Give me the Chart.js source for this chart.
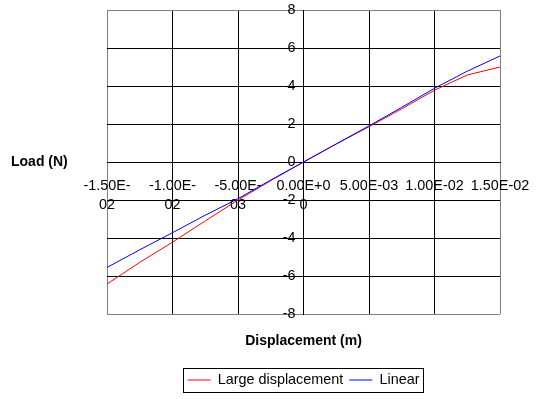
<html lang="en">
<head>
    <meta charset="UTF-8">
    <title>Load vs displacement</title>
    <script src="https://cdn.jsdelivr.net/npm/chart.js"></script>
    <style>
        body { margin: 0; background: #fff; }
    </style>
</head>
<body>
    <canvas id="grafico" width="536" height="399"></canvas>

    <script>
        // data
        var desplazamientos = [-0.015, -0.0125, -0.01, -0.0075, -0.005, -0.0025, 0, 0.0025, 0.005, 0.0075, 0.01, 0.0125, 0.015];
        var cargaGrande = [-6.42, -5.28, -4.22, -3.1, -2.0, -0.98, 0, 0.95, 1.86, 2.8, 3.78, 4.58, 5.0];
        var cargaLineal = [-5.55, -4.62, -3.72, -2.8, -1.93, -0.95, 0, 0.95, 1.9, 2.88, 3.88, 4.78, 5.58];
        var etiquetasX = [["-1.50E-", "02"], ["-1.00E-", "02"], ["-5.00E-", "03"], ["0.00E+0", "0"], "5.00E-03", "1.00E-02", "1.50E-02"];
        var etiquetasY = ["-8", "-6", "-4", "-2", "0", "2", "4", "6", "8"];

        var fuente = '"Liberation Sans", Arial, sans-serif';
        Chart.defaults.color = '#000';
        Chart.defaults.font.family = fuente;

        function puntos(valores) {
            return desplazamientos.map((x, i) => ({ x: x, y: valores[i] }));
        }

        function colorBorde(ctx, limite) {
            var v = ctx.tick ? ctx.tick.value : 0;
            return Math.abs(Math.abs(v) - limite) < limite * 1e-6 ? '#808080' : '#000';
        }

        // axis title on the left and frame round the legend
        var extras = {
            id: 'extras',
            afterDraw(chart) {
                var ctx = chart.ctx;
                ctx.save();
                ctx.fillStyle = '#000';
                ctx.font = 'bold 14px ' + fuente;
                ctx.textBaseline = 'middle';
                ctx.textAlign = 'left';
                ctx.fillText('Load (N)', 11, 162);

                var cajas = chart.legend.legendHitBoxes;
                if (cajas && cajas.length) {
                    var a = cajas[0], b = cajas[cajas.length - 1];
                    var mid = a.top + a.height / 2;
                    var x1 = Math.round(a.left - 5) + 0.5;
                    var x2 = Math.round(b.left + b.width + 4) + 0.5;
                    ctx.strokeStyle = '#000';
                    ctx.lineWidth = 1;
                    ctx.strokeRect(x1, Math.round(mid - 12) + 0.5, x2 - x1, 24);
                }
                ctx.restore();
            }
        };

        var ctx = document.getElementById("grafico").getContext("2d");
        var grafico = new Chart(ctx, {
            type: 'line',
            data: {
                datasets: [
                    {
                        label: 'Large displacement',
                        data: puntos(cargaGrande),
                        borderColor: '#ff0000',
                        backgroundColor: '#ff0000',
                        borderWidth: 1,
                        pointRadius: 0,
                        order: 1
                    },
                    {
                        label: 'Linear',
                        data: puntos(cargaLineal),
                        borderColor: '#0000ff',
                        backgroundColor: '#0000ff',
                        borderWidth: 1,
                        pointRadius: 0,
                        order: 0
                    }
                ]
            },
            options: {
                responsive: false,
                animation: false,
                layout: {
                    padding: { top: 10, left: 107, right: 36, bottom: 1.8 }
                },
                scales: {
                    x: {
                        type: 'linear',
                        min: -0.015,
                        max: 0.015,
                        position: { y: 0 },
                        ticks: {
                            stepSize: 0.005,
                            maxRotation: 0,
                            autoSkip: false,
                            padding: 4,
                            font: { size: 14.4, lineHeight: 1.3 },
                            callback: (v, i) => etiquetasX[i]
                        },
                        grid: {
                            color: c => colorBorde(c, 0.015),
                            tickLength: 11
                        },
                        border: { color: '#000' }
                    },
                    y: {
                        min: -8,
                        max: 8,
                        position: { x: 0 },
                        ticks: {
                            stepSize: 2,
                            padding: 0,
                            font: { size: 14.4 },
                            // centred axis: labels sit right on the axis, pad them off it
                            callback: (v, i) => etiquetasY[i] + '  '
                        },
                        grid: {
                            color: c => colorBorde(c, 8),
                            tickLength: 5
                        },
                        border: { color: '#000' }
                    }
                },
                plugins: {
                    title: {
                        display: true,
                        text: 'Displacement (m)',
                        position: 'bottom',
                        fullSize: false,
                        weight: 500,
                        font: { size: 14, weight: 'bold' },
                        padding: { top: 18.6, bottom: 17.4 }
                    },
                    legend: {
                        position: 'bottom',
                        fullSize: false,
                        labels: {
                            usePointStyle: true,
                            pointStyle: 'line',
                            pointStyleWidth: 23,
                            padding: 6,
                            font: { size: 14.4 },
                            sort: (a, b) => a.datasetIndex - b.datasetIndex
                        }
                    },
                    tooltip: { enabled: false }
                }
            },
            plugins: [extras]
        });
    </script>
</body>
</html>
